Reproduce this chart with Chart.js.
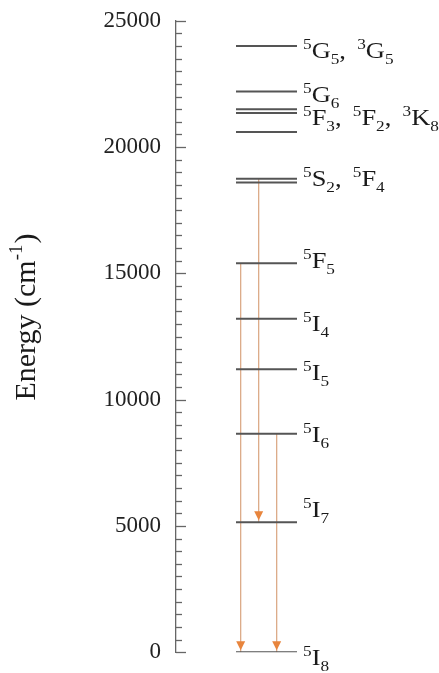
<!DOCTYPE html>
<html>
<head>
<meta charset="utf-8">
<script src="https://cdn.jsdelivr.net/npm/chart.js@4/dist/chart.umd.min.js"></script>
<style>
  html, body { margin: 0; padding: 0; background: #ffffff; }
  canvas { display: block; }
</style>
</head>
<body>
<canvas id="c" width="439" height="673"></canvas>
<script>
// ---- data (energies in cm^-1) ----
const levelEnergies = [24000, 22200, 21500, 21350, 20600, 18750, 18600, 15400, 13200, 11200, 8650, 5150, 0];
const levelLabels   = ['^5G_5, ^3G_5', '^5G_6', '^5F_3, ^5F_2, ^3K_8', '^5S_2, ^5F_4', '^5F_5', '^5I_4', '^5I_5', '^5I_6', '^5I_7', '^5I_8'];
const labelEnergies = [24000, 22200, 21500, 18750, 15400, 13200, 11200, 8650, 5150, 0];
const arrowFrom     = [15400, 18750, 8650];
const arrowTo       = [0, 5150, 0];
const majorTicks    = [0, 5000, 10000, 15000, 20000, 25000];
const axisTitle     = ['Energy (cm', '-1', ')'];

// ---- layout / style (not data) ----
const LEVEL_X = [60, 121];          // x-scale units (pixels right of axis)
const ARROW_X = [64.7, 82.7, 100.7];
const LABEL_X = 127;
const LABEL_DY = [12.4, 10, 15.7, 7.7, 4.6, 12, 11, 8.7, -5, 13];
const SERIF = "'Liberation Serif', 'Times New Roman', Times, serif";

const levelData = [];
levelEnergies.forEach(e => {
  levelData.push({x: LEVEL_X[0], y: e}, {x: LEVEL_X[1], y: e}, {x: LEVEL_X[1], y: null});
});
const arrowData = [];
arrowFrom.forEach((f, i) => {
  arrowData.push({x: ARROW_X[i], y: f}, {x: ARROW_X[i], y: arrowTo[i]}, {x: ARROW_X[i], y: null});
});

function parseLabel(s) {
  const segs = [];
  let buf = '';
  for (let i = 0; i < s.length; i++) {
    const ch = s[i];
    if (ch === '^' || ch === '_') {
      if (buf) { segs.push({t: buf, k: ''}); buf = ''; }
      segs.push({t: s[i + 1], k: ch === '^' ? 'sup' : 'sub'});
      i++;
    } else buf += ch;
  }
  if (buf) segs.push({t: buf, k: ''});
  return segs;
}

const diagramPlugin = {
  id: 'diagram',
  afterDraw(chart) {
    const ctx = chart.ctx;
    const xs = chart.scales.x, ys = chart.scales.y;
    const area = chart.chartArea;

    // inward tick marks on the y axis
    ctx.save();
    ctx.strokeStyle = '#666';
    ctx.lineWidth = 1.3;
    for (let v = 0; v <= 25000; v += 500) {
      const y = Math.round(ys.getPixelForValue(v)) + 0.5;
      const len = (v % 5000 === 0) ? 10 : 6;
      ctx.beginPath();
      ctx.moveTo(area.left, y);
      ctx.lineTo(area.left + len, y);
      ctx.stroke();
    }
    ctx.restore();

    // arrow heads
    ctx.save();
    ctx.fillStyle = '#E8853D';
    arrowTo.forEach((t, i) => {
      const x = xs.getPixelForValue(ARROW_X[i]);
      const tip = ys.getPixelForValue(t) - 2;
      ctx.beginPath();
      ctx.moveTo(x - 4.5, tip - 9);
      ctx.lineTo(x + 4.5, tip - 9);
      ctx.lineTo(x, tip);
      ctx.closePath();
      ctx.fill();
    });
    ctx.restore();

    // level labels with superscripts / subscripts
    ctx.save();
    ctx.fillStyle = '#1a1a1a';
    ctx.textBaseline = 'alphabetic';
    ctx.textAlign = 'left';
    levelLabels.forEach((lab, i) => {
      const x0 = xs.getPixelForValue(LABEL_X);
      const base = ys.getPixelForValue(labelEnergies[i]) + LABEL_DY[i];
      ctx.save();
      ctx.translate(x0, base);
      ctx.scale(1.15, 1);
      let x = 0;
      parseLabel(lab).forEach(sg => {
        if (sg.k) {
          ctx.font = '15px ' + SERIF;
          ctx.fillText(sg.t, x, sg.k === 'sup' ? -9 : 6);
          x += ctx.measureText(sg.t).width;
        } else {
          ctx.font = '23px ' + SERIF;
          ctx.fillText(sg.t, x, 0);
          x += ctx.measureText(sg.t).width;
          if (sg.t.indexOf(' ') >= 0) x += 4;
        }
      });
      ctx.restore();
    });
    ctx.restore();

    // y axis title with superscript
    ctx.save();
    ctx.fillStyle = '#1a1a1a';
    ctx.translate(27, 317);
    ctx.rotate(-Math.PI / 2);
    ctx.textBaseline = 'middle';
    ctx.textAlign = 'left';
    const mainFont = '30px ' + SERIF, supFont = '19px ' + SERIF;
    ctx.font = mainFont; const w1 = ctx.measureText(axisTitle[0]).width, w3 = ctx.measureText(axisTitle[2]).width;
    ctx.font = supFont; const w2 = ctx.measureText(axisTitle[1]).width;
    let x = -(w1 + w2 + w3 + 1) / 2;
    ctx.font = mainFont; ctx.fillText(axisTitle[0], x, 0); x += w1;
    ctx.font = supFont; ctx.fillText(axisTitle[1], x, -10); x += w2 + 1;
    ctx.font = mainFont; ctx.fillText(axisTitle[2], x, 0);
    ctx.restore();
  }
};

new Chart(document.getElementById('c'), {
  type: 'scatter',
  data: {
    datasets: [
      {
        label: 'levels',
        data: levelData,
        showLine: true,
        spanGaps: false,
        borderColor: '#555555',
        borderWidth: 2,
        pointRadius: 0,
        pointHoverRadius: 0
      },
      {
        label: 'transitions',
        data: arrowData,
        showLine: true,
        spanGaps: false,
        borderColor: '#D9A47E',
        borderWidth: 1.2,
        pointRadius: 0,
        pointHoverRadius: 0
      }
    ]
  },
  options: {
    responsive: false,
    animation: false,
    devicePixelRatio: 1,
    layout: { padding: { top: 10, bottom: 13, left: 0, right: 0 } },
    plugins: { legend: { display: false }, tooltip: { enabled: false } },
    scales: {
      x: { type: 'linear', min: 0, max: 263, display: false },
      y: {
        type: 'linear',
        min: 0,
        max: 25000,
        afterFit(scale) { scale.width = 176; },
        afterBuildTicks(scale) { scale.ticks = majorTicks.map(v => ({value: v})); },
        ticks: {
          autoSkip: false,
          padding: 7,
          color: '#222222',
          font: { family: SERIF, size: 23 },
          callback: (v) => String(v)
        },
        grid: { display: false },
        border: { display: true, color: '#666666', width: 1.3 },
        title: { display: false }
      }
    }
  },
  plugins: [diagramPlugin]
});
</script>
</body>
</html>
